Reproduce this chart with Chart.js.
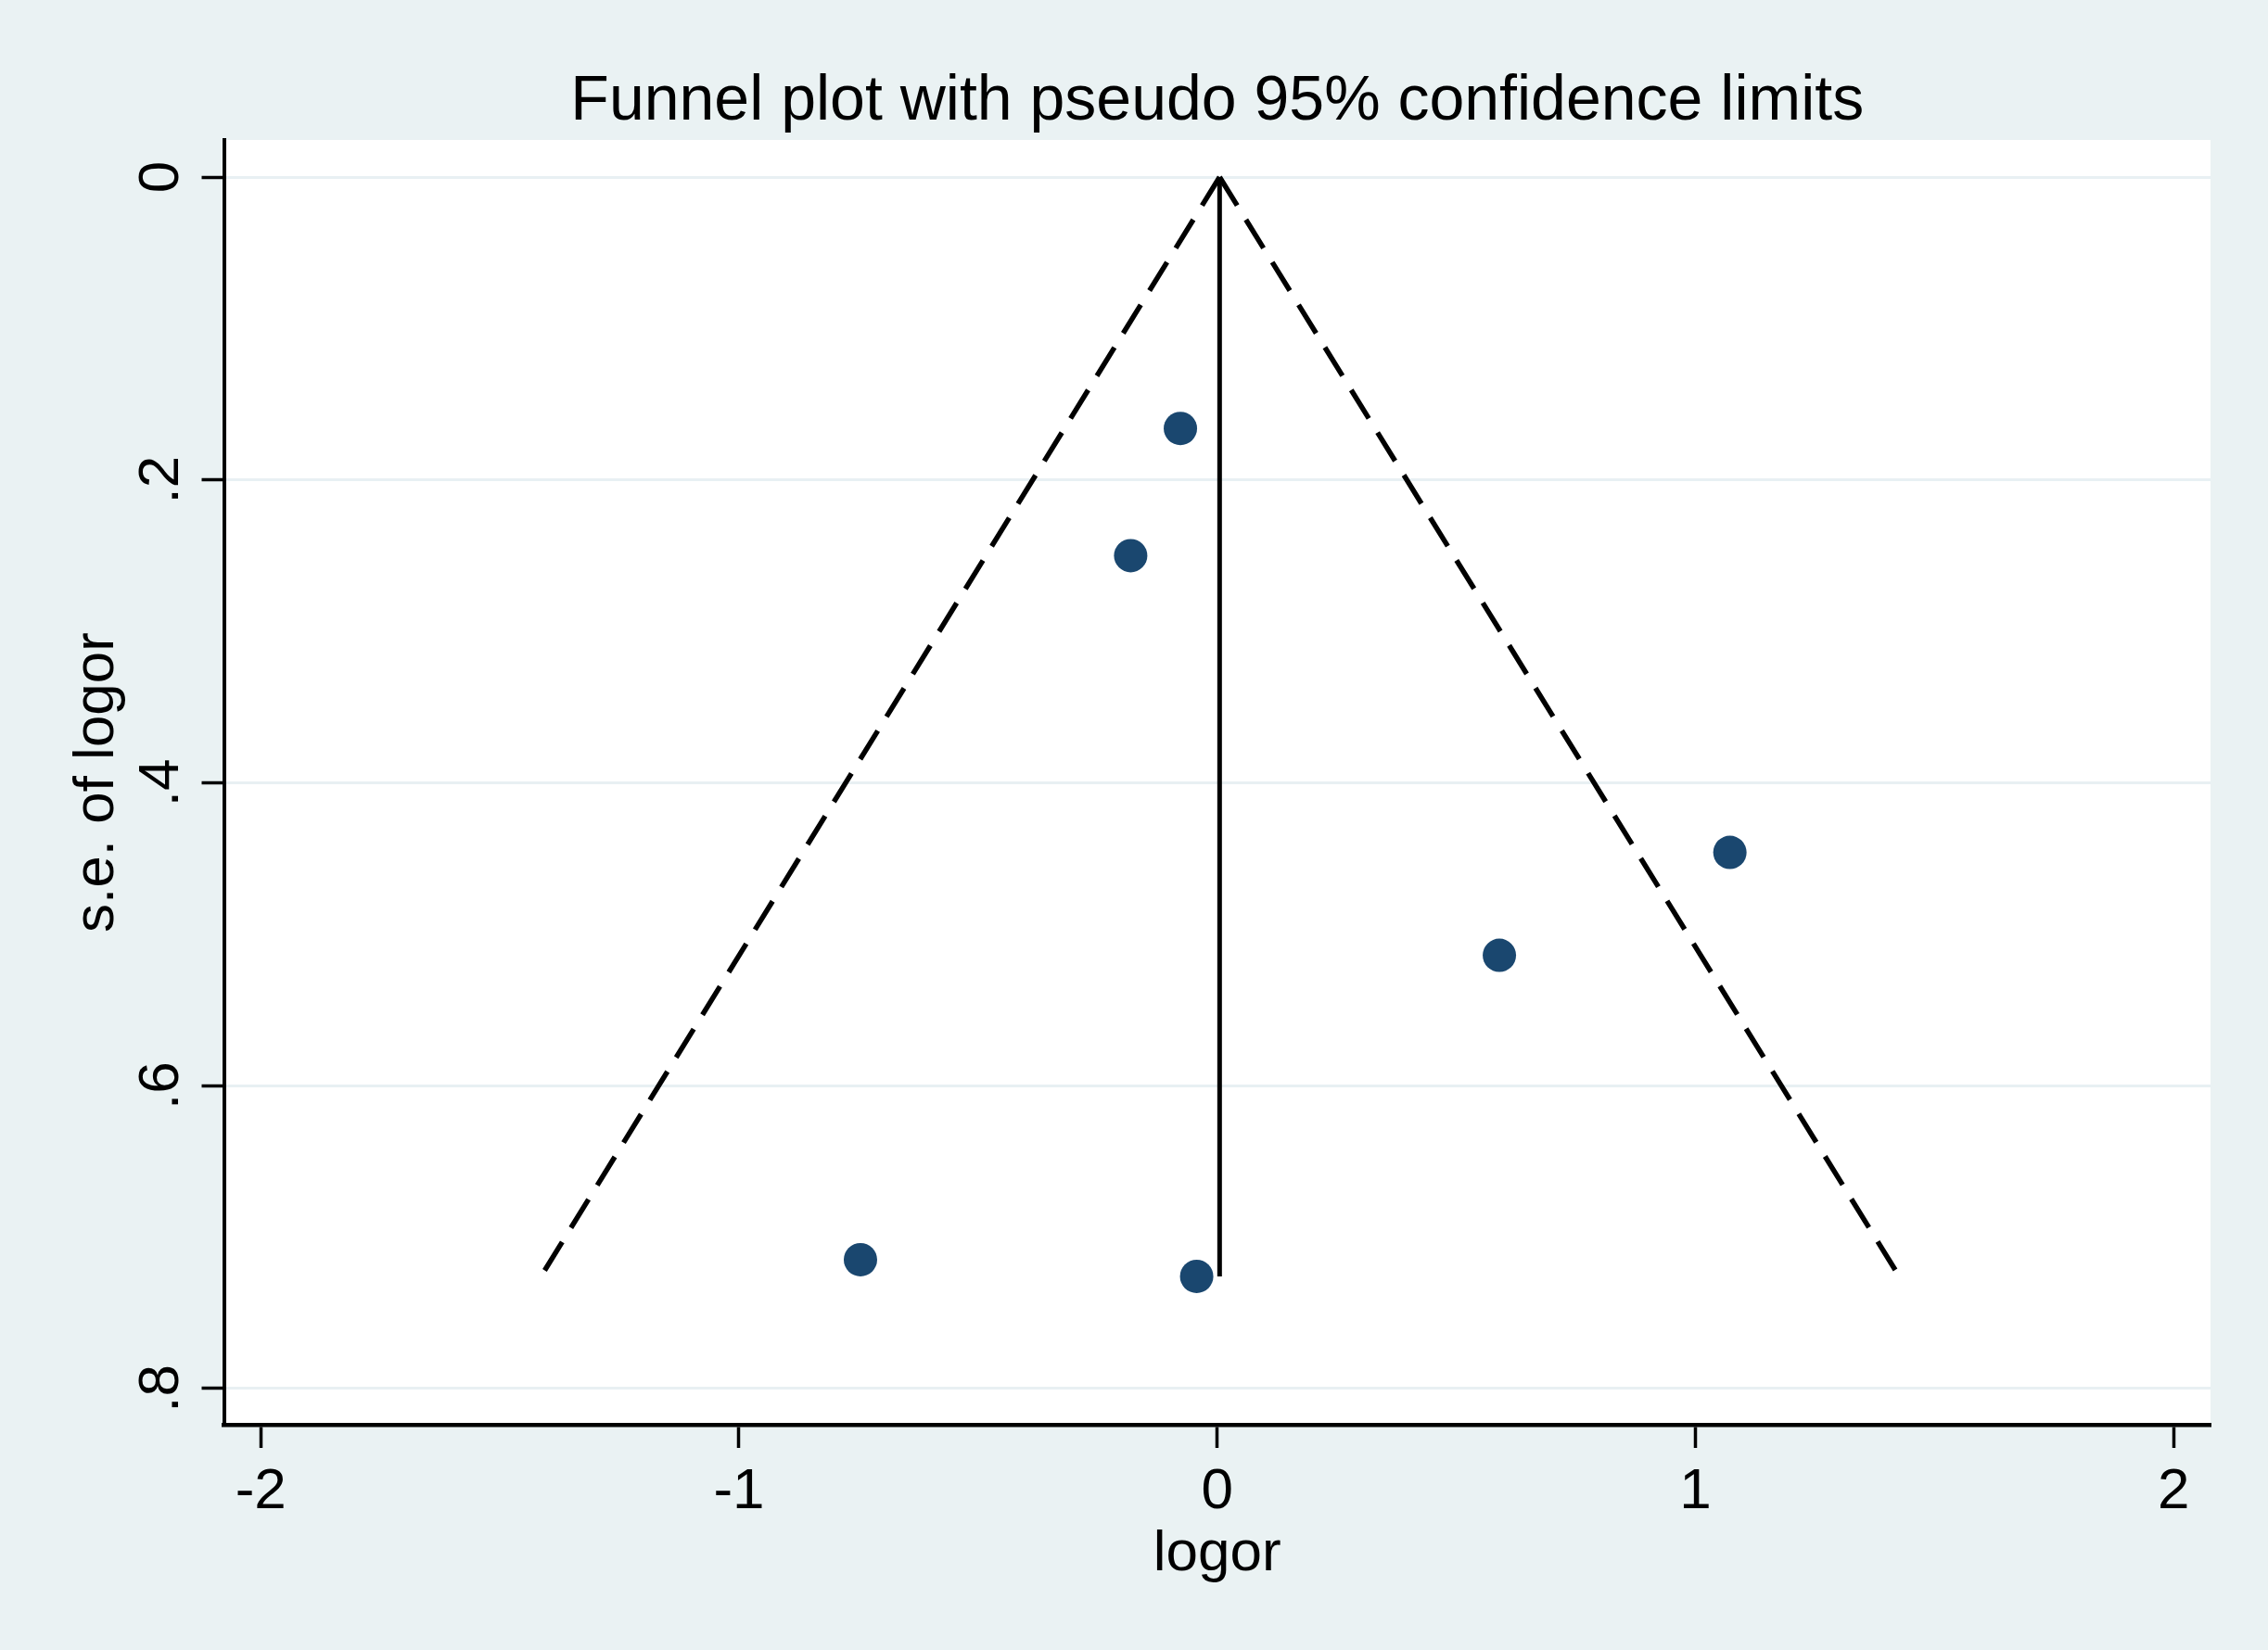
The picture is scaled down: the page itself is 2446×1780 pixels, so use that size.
<!DOCTYPE html>
<html>
<head>
<meta charset="utf-8">
<title>Funnel plot</title>
<script src="https://cdn.jsdelivr.net/npm/chart.js@4/dist/chart.umd.min.js"></script>
<style>
  html, body { margin: 0; padding: 0; background: #eaf2f3; overflow: hidden; }
  #wrap { width: 2446px; height: 1780px; position: relative; }
</style>
</head>
<body>
<div id="wrap"><canvas id="funnelChart"></canvas></div>
<script>
// study estimates
const studyLogOr = [-0.077, -0.181, 1.072, 0.59, -0.746, -0.043];
const studySeLogOr = [0.166, 0.25, 0.446, 0.514, 0.715, 0.726];

// pseudo 95% limits: apex and the two bottom ends
const funnelLeftX = [0.005, -1.414];
const funnelRightX = [0.005, 1.426];
const funnelSe = [0, 0.726];
const pooledX = [0.005, 0.005];

const xTicks = [-2, -1, 0, 1, 2];
const xTickLabels = ["-2", "-1", "0", "1", "2"];
const yTicks = [0, 0.2, 0.4, 0.6, 0.8];
const yTickLabels = ["0", ".2", ".4", ".6", ".8"];

document.addEventListener("DOMContentLoaded", () => {
  const canvas = document.getElementById("funnelChart");
  if (!canvas || typeof Chart === "undefined") {
    return;
  }

  const colors = {
    page: "#eaf2f3",
    plot: "#ffffff",
    grid: "#e8f0f3",
    marker: "#1a476f",
    ink: "#000000",
  };
  const fontFamily = "'Liberation Sans', Arial, Helvetica, sans-serif";

  const toPoints = (xs, ys) => xs.map((x, i) => ({ x, y: ys[i] }));

  const backdrop = {
    id: "backdrop",
    beforeDraw(chart) {
      const { ctx, chartArea, width, height } = chart;
      ctx.save();
      ctx.fillStyle = colors.page;
      ctx.fillRect(0, 0, width, height);
      ctx.fillStyle = colors.plot;
      ctx.fillRect(
        chartArea.left,
        chartArea.top,
        chartArea.right - chartArea.left,
        chartArea.bottom - chartArea.top,
      );
      ctx.restore();
    },
  };

  const dashedLine = {
    type: "line",
    showLine: true,
    borderColor: colors.ink,
    borderWidth: 5.5,
    borderDash: [36, 18],
    borderCapStyle: "butt",
    pointRadius: 0,
    fill: false,
  };

  new Chart(canvas.getContext("2d"), {
    type: "scatter",
    data: {
      datasets: [
        {
          label: "Studies",
          data: toPoints(studyLogOr, studySeLogOr),
          pointRadius: 18,
          pointBackgroundColor: colors.marker,
          pointBorderColor: colors.marker,
          pointBorderWidth: 0,
        },
        {
          ...dashedLine,
          label: "Lower limit",
          data: toPoints(funnelLeftX, funnelSe),
        },
        {
          ...dashedLine,
          label: "Upper limit",
          data: toPoints(funnelRightX, funnelSe),
        },
        {
          type: "line",
          label: "Pooled",
          data: toPoints(pooledX, funnelSe),
          showLine: true,
          borderColor: colors.ink,
          borderWidth: 5,
          pointRadius: 0,
          fill: false,
        },
      ],
    },
    options: {
      responsive: true,
      maintainAspectRatio: false,
      animation: false,
      devicePixelRatio: 1,
      layout: { padding: { left: 0, right: 62, top: 0, bottom: 0 } },
      plugins: {
        legend: { display: false },
        tooltip: { enabled: false },
        title: {
          display: true,
          text: "Funnel plot with pseudo 95% confidence limits",
          fullSize: false,
          color: colors.ink,
          font: { family: fontFamily, size: 68, weight: "normal" },
          padding: { top: 69, bottom: 0.4 },
        },
      },
      scales: {
        x: {
          type: "linear",
          min: -2.077,
          max: 2.077,
          afterBuildTicks: (scale) => {
            scale.ticks = xTicks.map((value) => ({ value }));
          },
          afterFit: (scale) => {
            scale.height = 243;
          },
          border: { display: true, color: colors.ink, width: 4.5 },
          grid: {
            display: true,
            drawOnChartArea: false,
            drawTicks: true,
            tickLength: 25,
            tickWidth: 3.5,
            tickColor: colors.ink,
          },
          ticks: {
            color: colors.ink,
            padding: 11,
            maxRotation: 0,
            autoSkip: false,
            font: { family: fontFamily, size: 62 },
            callback: (value) => {
              const i = xTicks.indexOf(value);
              return i >= 0 ? xTickLabels[i] : "";
            },
          },
          title: {
            display: true,
            text: "logor",
            color: colors.ink,
            font: { family: fontFamily, size: 62 },
            padding: { top: 0, bottom: 66 },
          },
        },
        y: {
          type: "linear",
          reverse: true,
          min: -0.0245,
          max: 0.824,
          afterBuildTicks: (scale) => {
            scale.ticks = yTicks.map((value) => ({ value }));
          },
          afterFit: (scale) => {
            scale.width = 241.5;
          },
          border: { display: true, color: colors.ink, width: 4 },
          grid: {
            display: true,
            drawOnChartArea: true,
            color: colors.grid,
            lineWidth: 3,
            drawTicks: true,
            tickLength: 24,
            tickWidth: 3.5,
            tickColor: colors.ink,
          },
          ticks: {
            color: colors.ink,
            padding: 17,
            minRotation: 90,
            maxRotation: 90,
            crossAlign: "center",
            autoSkip: false,
            font: { family: fontFamily, size: 62 },
            callback: (value) => {
              const i = yTicks.findIndex((t) => Math.abs(t - value) < 1e-9);
              return i >= 0 ? yTickLabels[i] : "";
            },
          },
          title: {
            display: true,
            text: "s.e. of logor",
            color: colors.ink,
            font: { family: fontFamily, size: 62 },
            padding: { top: 68, bottom: 0 },
          },
        },
      },
    },
    plugins: [backdrop],
  });
});
</script>
</body>
</html>
